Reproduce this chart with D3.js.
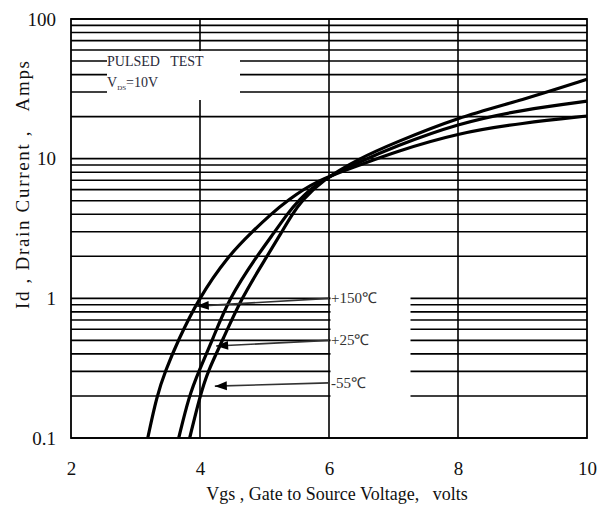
<!DOCTYPE html>
<html>
<head>
<meta charset="utf-8">
<script src="https://cdn.jsdelivr.net/npm/d3@7"></script>
<style>
    body { margin: 0; background: #fff; }
    svg { display: block; font-family: 'Liberation Serif', 'Times New Roman', serif; }
    text { white-space: pre; }
</style>
</head>
<body>
<div id="chart"></div>
<script>
// Vgs (volts) -> Id (amps)
const vgs150 = [3.19, 3.33, 3.46, 3.66, 3.98, 4.43, 4.81, 5.1, 5.35, 5.81, 6.48, 7.0, 8.0, 9.0, 10.0];
const id150 = [0.1, 0.2, 0.3, 0.5, 1, 2, 3, 4, 5, 7, 9.0, 11.1, 15.3, 18.0, 20.2];

const vgs25 = [3.67, 3.83, 3.98, 4.19, 4.45, 4.88, 5.16, 5.35, 5.52, 5.86, 6.48, 7.0, 8.0, 9.0, 10.0];
const id25 = [0.1, 0.2, 0.3, 0.5, 1, 2, 3, 4, 5, 7, 9.5, 12.1, 17.9, 22.4, 25.8];

const vgsM55 = [3.84, 4.0, 4.12, 4.35, 4.64, 5.04, 5.27, 5.43, 5.58, 5.89, 6.48, 7.0, 8.0, 9.0, 10.0];
const idM55 = [0.1, 0.2, 0.3, 0.5, 1, 2, 3, 4, 5, 7, 10.1, 12.9, 19.8, 26.3, 37];

const xTicks = [2, 4, 6, 8, 10];
const xGrid = [4, 6, 8];
const yMajor = [0.1, 1, 10, 100];
const yLabels = ['0.1', '1', '10', '100'];

// temperature callouts: label sits at Vgs=6, arrow points at the curve
const tempLabels = ['+150℃', '+25℃', '-55℃'];
const labelId = [1.0, 0.5, 0.248];
const tipVgs = [3.95, 4.25, 4.23];
const tipId = [0.88, 0.456, 0.235];

const W = 601;
const H = 511;
const plotLeft = 71;
const plotRight = 587;
const plotTop = 19;
const plotBottom = 438;

const svg = d3.select('#chart')
.append('svg')
.attr('width', W)
.attr('height', H);

const x = d3.scaleLinear().domain([2, 10]).range([plotLeft, plotRight]);
const y = d3.scaleLog().domain([0.1, 100]).range([plotBottom, plotTop]);

function renderGrid() {
    const g = svg.append('g')
    .attr('stroke', '#000')
    .attr('stroke-width', 1.6);

    g.selectAll('line.h')
    .data(y.ticks())
    .enter()
    .append('line')
    .attr('x1', plotLeft)
    .attr('x2', plotRight)
    .attr('y1', d => y(d))
    .attr('y2', d => y(d));

    g.selectAll('line.v')
    .data(xGrid)
    .enter()
    .append('line')
    .attr('x1', d => x(d))
    .attr('x2', d => x(d))
    .attr('y1', plotTop)
    .attr('y2', plotBottom);
}

function renderMasks() {
    // blank patches behind the notes, as in the original sheet
    svg.append('rect')
    .attr('x', 107).attr('y', 51)
    .attr('width', 133).attr('height', 49)
    .attr('fill', '#fff');

    svg.append('rect')
    .attr('x', x(6) + 1.5).attr('y', 262)
    .attr('width', 80).attr('height', 140)
    .attr('fill', '#fff');
}

function renderFrame() {
    svg.append('rect')
    .attr('x', plotLeft)
    .attr('y', plotTop)
    .attr('width', plotRight - plotLeft)
    .attr('height', plotBottom - plotTop)
    .attr('fill', 'none')
    .attr('stroke', '#000')
    .attr('stroke-width', 1.8);
}

function renderAxes() {
    svg.append('g')
    .attr('transform', `translate(0, ${plotBottom})`)
    .call(d3.axisBottom(x).tickValues(xTicks).tickSize(0).tickPadding(24).tickFormat(d3.format('d')))
    .call(g => g.select('.domain').remove())
    .selectAll('text')
    .attr('font-family', 'Liberation Serif, serif')
    .style('font-size', '19px')
    .attr('fill', '#111');

    svg.append('g')
    .attr('transform', `translate(${plotLeft}, 0)`)
    .call(d3.axisLeft(y).tickValues(yMajor).tickSize(0).tickPadding(15).tickFormat((d, i) => yLabels[i]))
    .call(g => g.select('.domain').remove())
    .selectAll('text')
    .attr('font-family', 'Liberation Serif, serif')
    .style('font-size', '19px')
    .attr('fill', '#111');

    svg.append('text')
    .attr('x', 337)
    .attr('y', 500)
    .attr('text-anchor', 'middle')
    .style('font-size', '18px')
    .attr('fill', '#111')
    .text('Vgs , Gate to Source Voltage,   volts');

    svg.append('text')
    .attr('transform', 'translate(29, 185) rotate(-90)')
    .attr('text-anchor', 'middle')
    .attr('textLength', 248)
    .attr('lengthAdjust', 'spacing')
    .style('font-size', '19px')
    .attr('fill', '#111')
    .text('Id , Drain Current ,   Amps');
}

function renderCurve(vgs, id) {
    const line = d3.line()
    .curve(d3.curveBasis)
    .x(i => x(vgs[i]))
    .y(i => y(id[i]));

    svg.append('path')
    .datum(d3.range(vgs.length))
    .attr('d', line)
    .attr('fill', 'none')
    .attr('stroke', '#000')
    .attr('stroke-width', 3.2);
}

function renderNotes() {
    const note = svg.append('g')
    .attr('fill', '#2a2a3a')
    .style('font-size', '14px');

    note.append('text')
    .attr('x', 107)
    .attr('y', 66)
    .text('PULSED   TEST');

    const vds = note.append('text')
    .attr('x', 107)
    .attr('y', 87);
    vds.append('tspan').text('V');
    vds.append('tspan').attr('dy', 3).style('font-size', '7px').text('DS');
    vds.append('tspan').attr('dy', -3).text('=10V');

    svg.append('defs')
    .append('marker')
    .attr('id', 'head')
    .attr('viewBox', '0 -5 12 10')
    .attr('refX', 12)
    .attr('refY', 0)
    .attr('markerUnits', 'userSpaceOnUse')
    .attr('markerWidth', 13)
    .attr('markerHeight', 10)
    .attr('orient', 'auto')
    .append('path')
    .attr('d', 'M0,-4.5L12,0L0,4.5Z')
    .attr('fill', '#000');

    svg.append('g')
    .selectAll('line')
    .data(tempLabels)
    .enter()
    .append('line')
    .attr('x1', x(6))
    .attr('y1', (d, i) => y(labelId[i]))
    .attr('x2', (d, i) => x(tipVgs[i]))
    .attr('y2', (d, i) => y(tipId[i]))
    .attr('stroke', '#333')
    .attr('stroke-width', 1.6)
    .attr('marker-end', 'url(#head)');

    svg.append('g')
    .selectAll('text')
    .data(tempLabels)
    .enter()
    .append('text')
    .attr('x', x(6) + 2)
    .attr('y', (d, i) => y(labelId[i]) + 5)
    .attr('fill', '#333')
    .style('font-size', '15px')
    .text(d => d);
}

renderGrid();
renderMasks();
renderFrame();
renderAxes();
renderCurve(vgs150, id150);
renderCurve(vgs25, id25);
renderCurve(vgsM55, idM55);
renderNotes();
</script>
</body>
</html>
